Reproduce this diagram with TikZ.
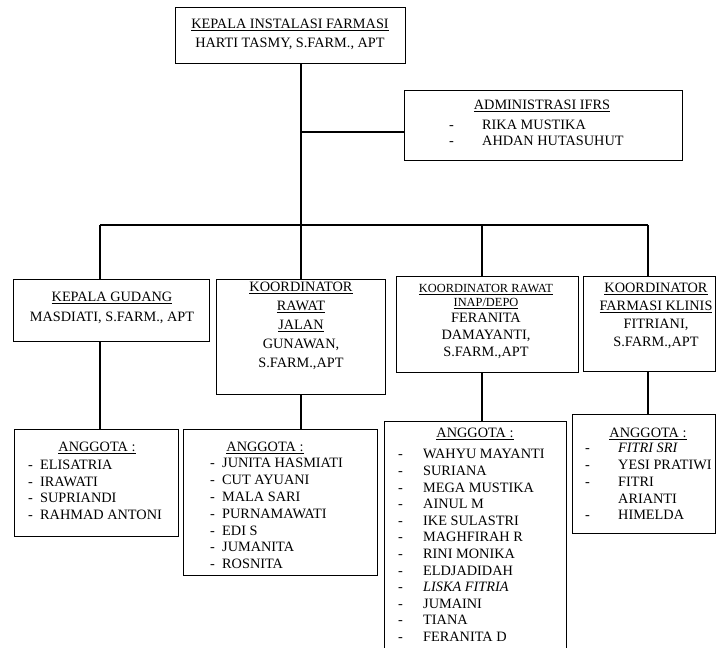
\documentclass[tikz,border=0pt]{standalone}
\usepackage{fontspec}
\setmainfont{Liberation Serif}
\newcommand\mydash[1]{\makebox[#1][l]{-}}
\begin{document}
\begin{tikzpicture}[x=1pt,y=-1pt,
  box/.style={draw, line width=1.1pt, inner sep=0pt, anchor=north west},
  conn/.style={line width=1.1pt},
  hdr/.style={anchor=north, align=center, inner sep=0pt, text=black},
  lst/.style={anchor=north west, align=left, inner sep=0pt, text=black, font=\fontsize{14.3}{16.7}\selectfont},
]
\clip (0,0) rectangle (716,648);
\fill[white] (0,0) rectangle (716,648);

% boxes
\node[box, minimum width=230pt, minimum height=56pt] (top) at (175,7) {};
\node[box, minimum width=278pt, minimum height=70pt] (adm) at (404,90) {};
\node[box, minimum width=196pt, minimum height=62pt] (b1) at (13,279) {};
\node[box, minimum width=169pt, minimum height=115pt] (b2) at (216,279) {};
\node[box, minimum width=182pt, minimum height=96pt] (b3) at (396,276) {};
\node[box, minimum width=132pt, minimum height=95pt] (b4) at (583,276) {};
\node[box, minimum width=164pt, minimum height=107pt] (a1) at (14,429) {};
\node[box, minimum width=194pt, minimum height=146pt] (a2) at (183,429) {};
\node[box, minimum width=182pt, minimum height=250pt] (a3) at (384,421) {};
\node[box, minimum width=143pt, minimum height=119pt] (a4) at (572,414) {};

% connectors
\coordinate (jt) at (301,132);
\coordinate (jb) at (301,225);
\coordinate (barL) at (100,225);
\coordinate (barC) at (482,225);
\coordinate (barR) at (648,225);
\draw[conn] (top.south -| jt) -- (jb);
\draw[conn] (jt) -- (jt -| adm.west);
\draw[conn] (barL) -- (barR);
\draw[conn] (barL) -- (barL |- b1.north);
\draw[conn] (jb) -- (jb |- b2.north);
\draw[conn] (barC) -- (barC |- b3.north);
\draw[conn] (barR) -- (barR |- b4.north);
\draw[conn] (b1.south -| barL) -- (barL |- a1.north);
\draw[conn] (b2.south -| jb) -- (jb |- a2.north);
\draw[conn] (b3.south -| barC) -- (barC |- a3.north);
\draw[conn] (b4.south -| barR) -- (barR |- a4.north);

% texts
\node[hdr, font=\fontsize{14.3}{19}\selectfont] (topt) at (290,19.3)
  {\underline{KEPALA INSTALASI FARMASI}\\HARTI TASMY, S.FARM., APT};
\node[hdr, font=\fontsize{14.3}{19}\selectfont] (admt) at (542,100.3)
  {\underline{ADMINISTRASI IFRS}};
\node[lst, font=\fontsize{14.3}{16}\selectfont] (adml) at (449,120.3)
  {\mydash{33pt}RIKA MUSTIKA\\\mydash{33pt}AHDAN HUTASUHUT};

\node[hdr, font=\fontsize{14.3}{20}\selectfont] (b1t) at (112,292.3)
  {\underline{KEPALA GUDANG}\\MASDIATI, S.FARM., APT};
\node[hdr, font=\fontsize{14.3}{19}\selectfont] (b2t) at (301,282.3)
  {\underline{KOORDINATOR}\\\underline{RAWAT}\\\underline{JALAN}\\GUNAWAN,\\S.FARM.,APT};
\node[hdr, font=\fontsize{12.4}{14}\selectfont] (b3t) at (486,283.9)
  {\underline{KOORDINATOR RAWAT}\\\underline{INAP/DEPO}};
\node[hdr, font=\fontsize{14.3}{17}\selectfont] (b3n) at (486,313.3)
  {FERANITA\\DAMAYANTI,\\S.FARM.,APT};
\node[hdr, font=\fontsize{14.3}{18}\selectfont] (b4t) at (656,283.3)
  {\underline{KOORDINATOR}\\\underline{FARMASI KLINIS}\\FITRIANI,\\S.FARM.,APT};

\node[hdr, font=\fontsize{14.3}{17}\selectfont] (a1t) at (97,442.3) {\underline{ANGGOTA :}};
\node[lst, font=\fontsize{14.3}{16.5}\selectfont] (a1l) at (28,460.3)
  {\mydash{12pt}ELISATRIA\\\mydash{12pt}IRAWATI\\\mydash{12pt}SUPRIANDI\\\mydash{12pt}RAHMAD ANTONI};

\node[hdr, font=\fontsize{14.3}{17}\selectfont] (a2t) at (265,442.3) {\underline{ANGGOTA :}};
\node[lst, font=\fontsize{14.3}{16.8}\selectfont] (a2l) at (210,458.3)
  {\mydash{12pt}JUNITA HASMIATI\\\mydash{12pt}CUT AYUANI\\\mydash{12pt}MALA SARI\\\mydash{12pt}PURNAMAWATI\\\mydash{12pt}EDI S\\\mydash{12pt}JUMANITA\\\mydash{12pt}ROSNITA};

\node[hdr, font=\fontsize{14.3}{17}\selectfont] (a3t) at (475,428.3) {\underline{ANGGOTA :}};
\node[lst, font=\fontsize{14.3}{16.6}\selectfont] (a3l) at (398,449.3)
  {\mydash{25pt}WAHYU MAYANTI\\\mydash{25pt}SURIANA\\\mydash{25pt}MEGA MUSTIKA\\\mydash{25pt}AINUL M\\\mydash{25pt}IKE SULASTRI\\\mydash{25pt}MAGHFIRAH R\\\mydash{25pt}RINI MONIKA\\\mydash{25pt}ELDJADIDAH\\\mydash{25pt}\textit{LISKA FITRIA}\\\mydash{25pt}JUMAINI\\\mydash{25pt}TIANA\\\mydash{25pt}FERANITA D};

\node[hdr, font=\fontsize{14.3}{17}\selectfont] (a4t) at (648,428.3) {\underline{ANGGOTA :}};
\node[lst, font=\fontsize{14.3}{16.75}\selectfont] (a4l) at (585,443.3)
  {\mydash{33pt}\textit{FITRI SRI}\\\mydash{33pt}YESI PRATIWI\\\mydash{33pt}FITRI\\\makebox[33pt]{}ARIANTI\\\mydash{33pt}HIMELDA};
\end{tikzpicture}
\end{document}
